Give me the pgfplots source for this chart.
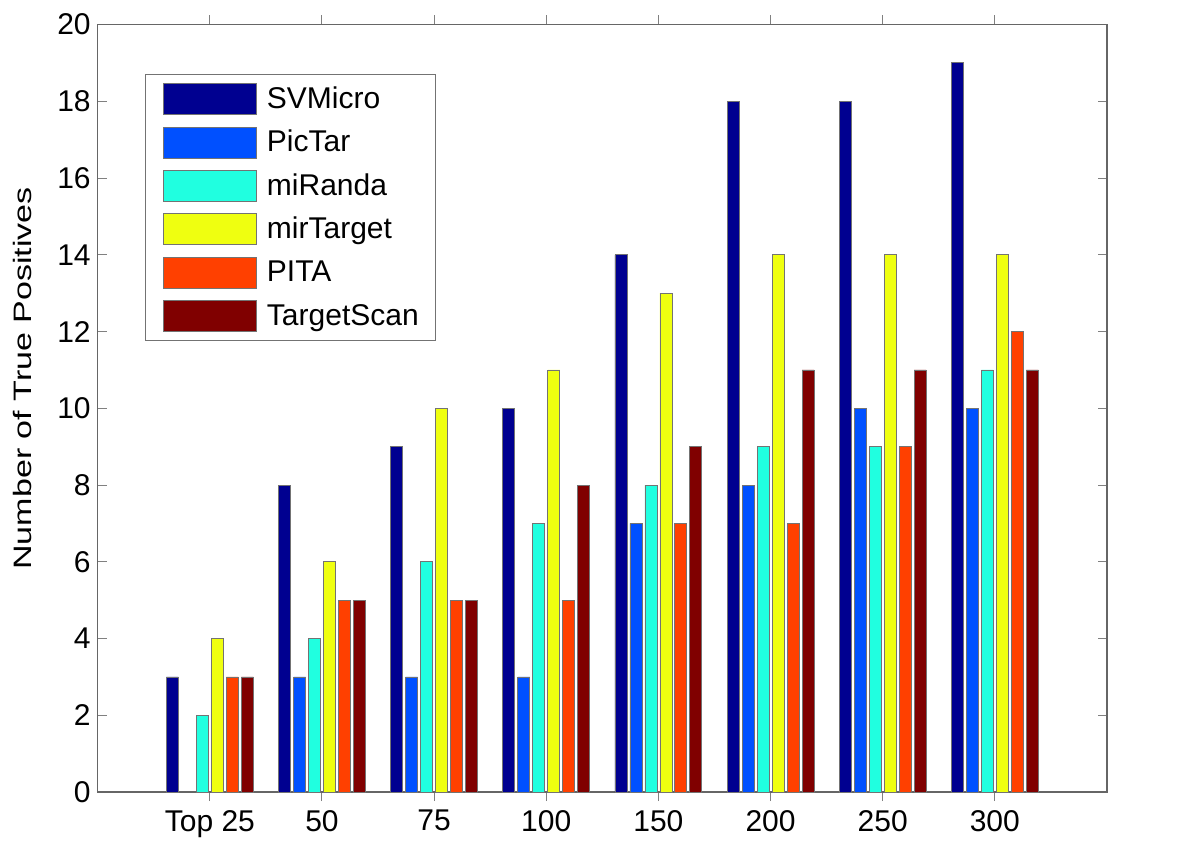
\documentclass[border=0pt]{standalone}
\usepackage{fontspec}
\setmainfont{Liberation Sans}
\usepackage{graphicx}
\usepackage{pgfplots}
\pgfplotsset{compat=1.18}
\definecolor{c1}{HTML}{000090}
\definecolor{c2}{HTML}{0050FF}
\definecolor{c3}{HTML}{20FFE0}
\definecolor{c4}{HTML}{EFFF10}
\definecolor{c5}{HTML}{FF4000}
\definecolor{c6}{HTML}{800000}
\begin{document}
\begin{tikzpicture}
\useasboundingbox (-48.85pt,-30pt) rectangle (551.1pt,396pt);
\begin{axis}[name=ax, at={(0,0)}, anchor=south west,
 scale only axis, width=504.6pt, height=383.75pt,
 xmin=0, xmax=9, ymin=0, ymax=20,
 xtick={1,...,8}, xticklabels={Top 25,50,75,100,150,200,250,300},
 ytick={0,2,...,20},
 tick align=inside, major tick length=4.5pt, tick pos=both,
 tick style={color=gray, line width=0.5pt},
 axis line style={color=black!60, line width=0.6pt},
 ticklabel style={font=\fontsize{15}{17}\selectfont},
 xticklabel style={yshift=-1pt},
 /pgf/number format/assume math mode=true,
 ylabel={\scalebox{1.35}[1]{Number of True Positives}},
 ylabel style={font=\fontsize{12.6}{14}\selectfont, at={(rel axis cs:-0.0654,0.539)}, anchor=base},
 ybar, bar width=0.107,
 every axis plot/.append style={draw=black!55, line width=0.4pt},
 legend image code/.code={\draw[#1] (0pt,-7.75pt) rectangle (46.5pt,7.75pt);},
 legend cell align=left,
 legend style={at={(rel axis cs:0.0469,0.9355)}, anchor=north west,
   draw=black!55, line width=0.5pt, font=\fontsize{15}{17}\selectfont,
   inner xsep=8.5pt, inner ysep=4.3pt, row sep=5.8pt, column sep=5.3pt,
   nodes={inner sep=0pt}},
]
\addplot[fill=c1, bar shift=-0.334] coordinates {(1,3) (2,8) (3,9) (4,10) (5,14) (6,18) (7,18) (8,19)};
\addplot[fill=c2, bar shift=-0.2004] coordinates {(2,3) (3,3) (4,3) (5,7) (6,8) (7,10) (8,10)};
\addplot[fill=c3, bar shift=-0.0668] coordinates {(1,2) (2,4) (3,6) (4,7) (5,8) (6,9) (7,9) (8,11)};
\addplot[fill=c4, bar shift=0.0668] coordinates {(1,4) (2,6) (3,10) (4,11) (5,13) (6,14) (7,14) (8,14)};
\addplot[fill=c5, bar shift=0.2004] coordinates {(1,3) (2,5) (3,5) (4,5) (5,7) (6,7) (7,9) (8,12)};
\addplot[fill=c6, bar shift=0.334] coordinates {(1,3) (2,5) (3,5) (4,8) (5,9) (6,11) (7,11) (8,11)};
\legend{SVMicro,PicTar,miRanda,mirTarget,PITA,TargetScan}
\end{axis}
\end{tikzpicture}
\end{document}
